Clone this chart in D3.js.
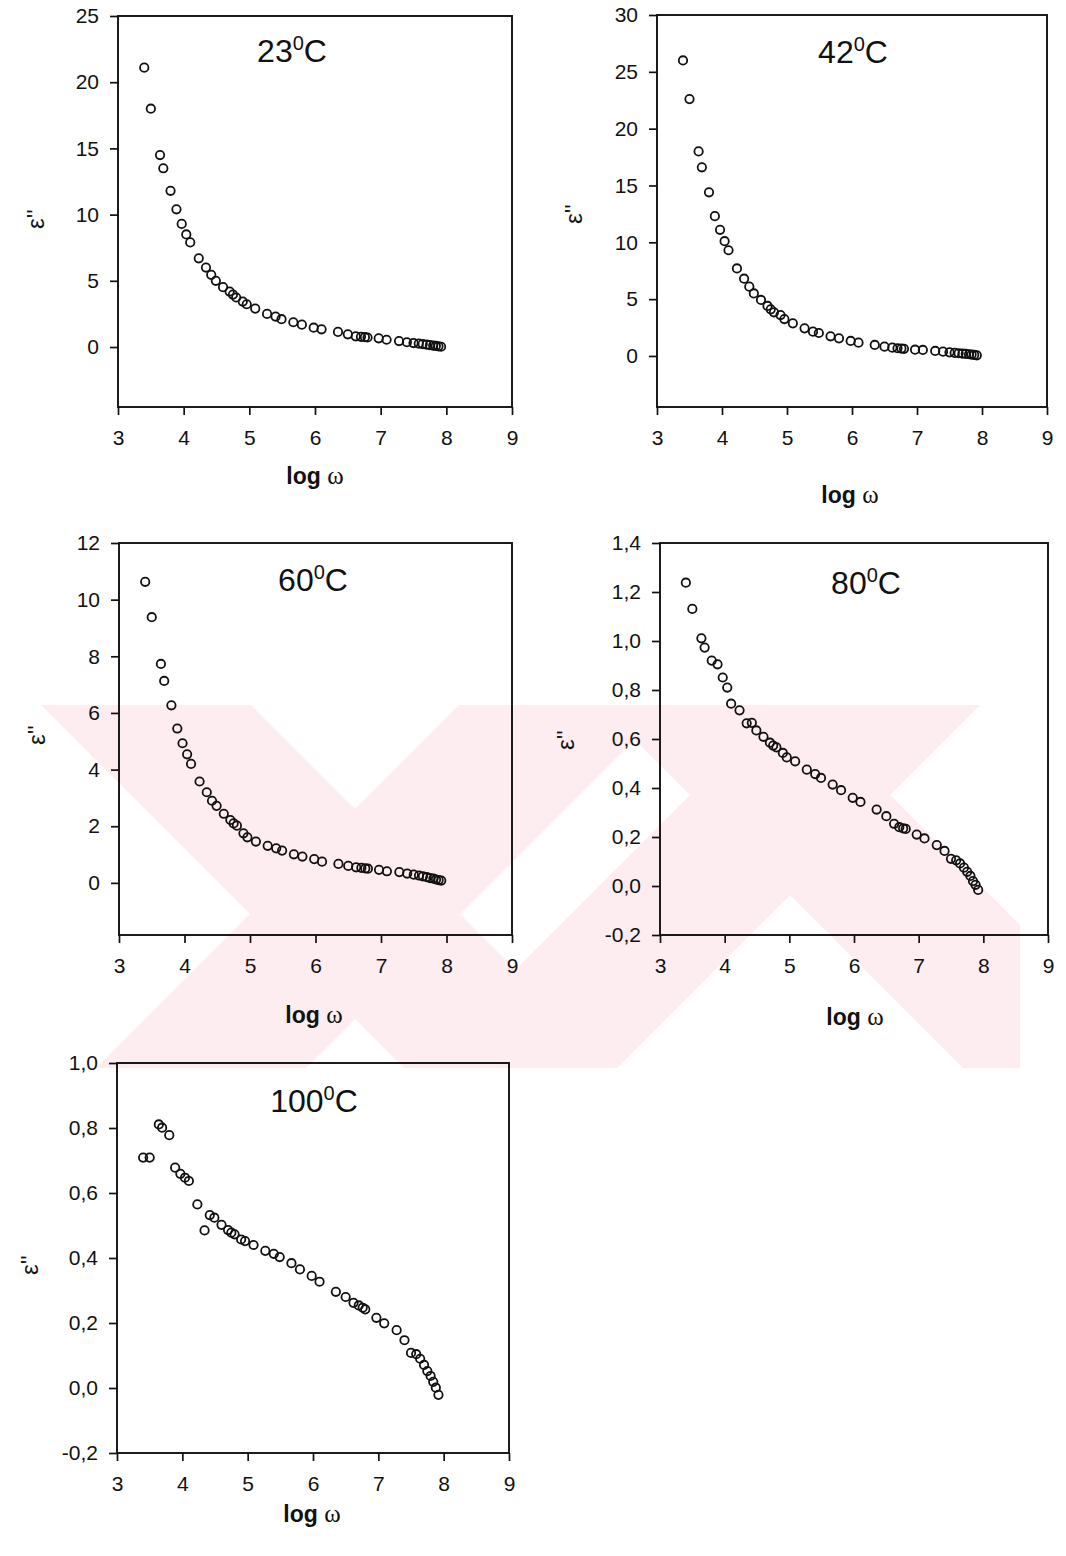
<!DOCTYPE html>
<html>
<head>
<meta charset="utf-8">
<script src="https://cdn.jsdelivr.net/npm/d3@7/dist/d3.min.js"></script>
<style>
  body { margin: 0; background: #fff; }
  svg text { font-family: "Liberation Sans", Arial, sans-serif; fill: #111; }
</style>
</head>
<body>
<div id="chart"></div>
<script>
// log(omega), shared by all five measurements
var logW = [3.40, 3.50, 3.64, 3.69, 3.80, 3.89, 3.97, 4.04, 4.10, 4.23,
            4.34, 4.42, 4.49, 4.60, 4.70, 4.75, 4.80, 4.90, 4.96, 5.09,
            5.27, 5.40, 5.49, 5.67, 5.80, 5.98, 6.10, 6.35, 6.50, 6.62,
            6.70, 6.76, 6.80, 6.97, 7.09, 7.28, 7.40, 7.50, 7.58, 7.64,
            7.70, 7.75, 7.80, 7.84, 7.88, 7.92];

// epsilon'' at each temperature
var eps23 = [21.1, 18.0, 14.5, 13.5, 11.8, 10.4, 9.3, 8.5, 7.9, 6.7,
             6.0, 5.45, 5.0, 4.52, 4.19, 3.96, 3.74, 3.43, 3.23, 2.9,
             2.5, 2.3, 2.1, 1.87, 1.69, 1.46, 1.34, 1.14, 0.96, 0.81,
             0.77, 0.74, 0.72, 0.66, 0.55, 0.45, 0.36, 0.30, 0.26, 0.22,
             0.18, 0.14, 0.11, 0.08, 0.05, 0.02];
var eps42 = [26.0, 22.6, 18.0, 16.6, 14.4, 12.3, 11.1, 10.1, 9.3, 7.7,
             6.8, 6.1, 5.5, 4.93, 4.4, 4.1, 3.84, 3.6, 3.25, 2.87,
             2.43, 2.14, 2.02, 1.73, 1.55, 1.32, 1.17, 0.97, 0.82, 0.73,
             0.68, 0.65, 0.63, 0.55, 0.53, 0.44, 0.38, 0.32, 0.27, 0.24,
             0.21, 0.18, 0.15, 0.12, 0.09, 0.06];
var eps60 = [10.63, 9.38, 7.73, 7.13, 6.27, 5.45, 4.93, 4.54, 4.2, 3.58,
             3.2, 2.9, 2.72, 2.44, 2.22, 2.1, 2.02, 1.75, 1.61, 1.46,
             1.31, 1.22, 1.14, 1.01, 0.93, 0.84, 0.75, 0.67, 0.60, 0.55,
             0.53, 0.51, 0.50, 0.46, 0.41, 0.38, 0.33, 0.29, 0.26, 0.23,
             0.20, 0.17, 0.15, 0.12, 0.10, 0.08];
var eps80 = [1.238, 1.131, 1.011, 0.973, 0.920, 0.905, 0.851, 0.810, 0.744, 0.717,
             0.664, 0.666, 0.635, 0.609, 0.585, 0.573, 0.566, 0.543, 0.525, 0.509,
             0.475, 0.457, 0.441, 0.414, 0.391, 0.360, 0.343, 0.312, 0.285, 0.254,
             0.240, 0.235, 0.233, 0.210, 0.194, 0.167, 0.143, 0.111, 0.105, 0.092,
             0.075, 0.058, 0.041, 0.020, 0.005, -0.016];
var eps100 = [0.709, 0.709, 0.811, 0.801, 0.778, 0.678, 0.659, 0.647, 0.637, 0.565,
              0.485, 0.532, 0.524, 0.502, 0.486, 0.478, 0.473, 0.457, 0.452, 0.440,
              0.422, 0.413, 0.403, 0.384, 0.365, 0.345, 0.327, 0.296, 0.280, 0.262,
              0.254, 0.247, 0.242, 0.216, 0.199, 0.178, 0.147, 0.108, 0.104, 0.090,
              0.071, 0.052, 0.037, 0.019, 0.001, -0.021];

var temps = ["23", "42", "60", "80", "100"];
var xTicks = [3, 4, 5, 6, 7, 8, 9];
var yTicks23 = [0, 5, 10, 15, 20, 25];
var yTicks42 = [0, 5, 10, 15, 20, 25, 30];
var yTicks60 = [0, 2, 4, 6, 8, 10, 12];
var yTicks80 = [-0.2, 0, 0.2, 0.4, 0.6, 0.8, 1.0, 1.2, 1.4];
var yTicks100 = [-0.2, 0, 0.2, 0.4, 0.6, 0.8, 1.0];
var xTitle = "log ";
var yTitle = "ε''";

var svg = d3.select("#chart")
  .append("svg")
    .attr("width", 1066)
    .attr("height", 1556);

drawWatermark(svg);

var intFmt = d3.format("d");
var commaFmt = function(v) { return v.toFixed(1).replace(".", ","); };

drawPanel(svg, { left: 118, right: 512, top: 16, bottom: 407, yDomain: [-4.53, 25],
  ticks: yTicks23, fmt: intFmt, eps: eps23, temp: temps[0],
  tx: 292, ty: 62, lx: 315, ly: 484, ex: 36, ey: 219 });
drawPanel(svg, { left: 657, right: 1047, top: 15, bottom: 407, yDomain: [-4.49, 30],
  ticks: yTicks42, fmt: intFmt, eps: eps42, temp: temps[1],
  tx: 853, ty: 63, lx: 850, ly: 503, ex: 574, ey: 214 });
drawPanel(svg, { left: 119, right: 512, top: 543, bottom: 935, yDomain: [-1.84, 12],
  ticks: yTicks60, fmt: intFmt, eps: eps60, temp: temps[2],
  tx: 313, ty: 591, lx: 314, ly: 1023, ex: 37, ey: 735 });
drawPanel(svg, { left: 660, right: 1048, top: 543, bottom: 935, yDomain: [-0.2, 1.4],
  ticks: yTicks80, fmt: commaFmt, eps: eps80, temp: temps[3],
  tx: 866, ty: 594, lx: 855, ly: 1025, ex: 566, ey: 740 });
drawPanel(svg, { left: 117, right: 509, top: 1063, bottom: 1453, yDomain: [-0.2, 1.0],
  ticks: yTicks100, fmt: commaFmt, eps: eps100, temp: temps[4],
  tx: 314, ty: 1112, lx: 312, ly: 1522, ex: 30, ey: 1265 });

function drawPanel(svg, p) {
    var x = d3.scaleLinear().domain([3, 9]).range([p.left, p.right]);
    var y = d3.scaleLinear().domain(p.yDomain).range([p.bottom, p.top]);
    var g = svg.append("g");

    // X axis
    var xa = g.append("g")
      .attr("transform", "translate(0," + p.bottom + ")")
      .call(d3.axisBottom(x).tickValues(xTicks).tickSize(8).tickPadding(15).tickFormat(intFmt));
    // Y axis
    var ya = g.append("g")
      .attr("transform", "translate(" + p.left + ",0)")
      .call(d3.axisLeft(y).tickValues(p.ticks).tickSize(8).tickPadding(11).tickFormat(p.fmt));
    [xa, ya].forEach(function(a) {
        a.select(".domain").remove();
        a.attr("font-size", 21).attr("font-family", null);
        a.selectAll(".tick line").attr("stroke", "#111").attr("stroke-width", 1.7);
        a.selectAll(".tick text").attr("fill", "#111");
    });

    // frame
    g.append("rect")
      .attr("x", x(3))
      .attr("y", y(p.yDomain[1]))
      .attr("width", x(9) - x(3))
      .attr("height", y(p.yDomain[0]) - y(p.yDomain[1]))
      .attr("fill", "none")
      .attr("stroke", "#111")
      .attr("stroke-width", 1.9);

    // points
    g.append("g")
      .selectAll("circle")
      .data(p.eps)
      .enter()
      .append("circle")
        .attr("cx", function(d, i) { return x(logW[i]); })
        .attr("cy", function(d) { return y(d); })
        .attr("r", 4.2)
        .attr("fill", "none")
        .attr("stroke", "#111")
        .attr("stroke-width", 1.8);

    // temperature title
    var t = g.append("text")
      .attr("x", p.tx)
      .attr("y", p.ty)
      .attr("text-anchor", "middle")
      .attr("font-size", 32);
    t.append("tspan").text(p.temp);
    t.append("tspan").attr("dy", -12).attr("font-size", 20).text("0");
    t.append("tspan").attr("dy", 12).text("C");

    // axis titles
    var xl = g.append("text")
      .attr("x", p.lx)
      .attr("y", p.ly)
      .attr("text-anchor", "middle")
      .attr("font-size", 23)
      .attr("font-weight", "bold");
    xl.append("tspan").text(xTitle);
    xl.append("tspan")
      .attr("font-family", "'Liberation Serif', 'Times New Roman', serif")
      .attr("font-weight", "normal")
      .attr("font-size", 25)
      .text("ω");

    g.append("text")
      .attr("transform", "translate(" + p.ex + "," + p.ey + ") rotate(-90)")
      .attr("text-anchor", "middle")
      .attr("dy", "0.35em")
      .attr("font-size", 24)
      .text(yTitle);
}

// faint pink scan watermark behind the lower row
function drawWatermark(svg) {
    var bands = [
      [[41, 705], [251, 705], [614, 1068], [404, 1068]],
      [[459, 705], [669, 705], [306, 1068], [96, 1068]],
      [[600, 705], [800, 705], [1163, 1068], [963, 1068]],
      [[780, 705], [980, 705], [617, 1068], [417, 1068]]
    ];
    svg.append("clipPath")
      .attr("id", "wm")
      .append("rect")
        .attr("x", 40).attr("y", 705).attr("width", 980).attr("height", 363);
    svg.append("g")
      .attr("clip-path", "url(#wm)")
      .selectAll("polygon")
      .data(bands)
      .enter()
      .append("polygon")
        .attr("points", function(d) { return d.map(function(q) { return q.join(","); }).join(" "); })
        .attr("fill", "#fdecf0");
}
</script>
</body>
</html>
